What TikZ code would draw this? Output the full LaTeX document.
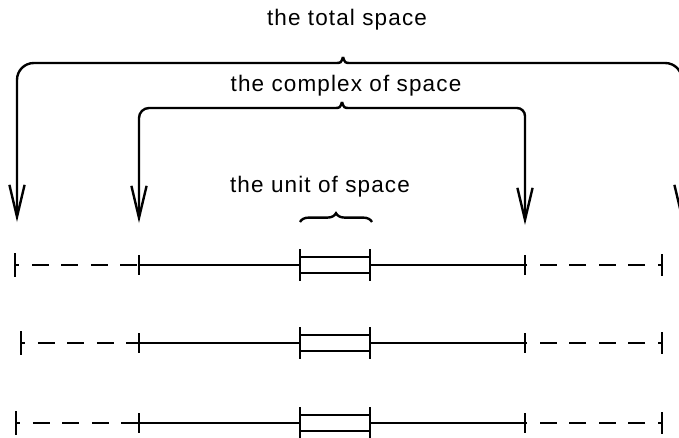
\documentclass[tikz,border=0pt]{standalone}
\usepackage{fontspec}
\setmainfont{Liberation Sans}
\newfontfamily\lblfont{Liberation Sans}[LetterSpace=5]
\usetikzlibrary{arrows.meta,positioning,calc,decorations.pathreplacing}

\begin{document}
\begin{tikzpicture}[x=0.025cm,y=-0.025cm,line width=1.4pt,
  >={Straight Barb[length=8mm,width=3.8mm]},
  lbl/.style={font=\lblfont\fontsize{16}{19}\selectfont,inner sep=0pt,anchor=base},
  brc/.style={line width=1.7pt},
  gapdash/.style={dash pattern=on 12pt off 9pt,dash phase=9pt}]
\clip (0,0) rectangle (679,437);
% --- labels ---
\node[lbl] (total)   at (347,25)  {the total space};
\node[lbl] (complex) at (346,91)  {the complex of space};
\node[lbl] (unit)    at (320,192) {the unit of space};
% --- cusps and arrow tips ---
\coordinate (totC) at (343,57);
\coordinate (totL) at (17,222);
\coordinate (totR) at (682,222);
\coordinate (cpxC) at (342,102);
\coordinate (cpxL) at (139,223);
\coordinate (cpxR) at (525,225);
\coordinate (untL) at (300,222);
\coordinate (untR) at (372,222);
% --- the total space ---
\draw[brc,->] (totC) .. controls (341,63) .. (335,63) [rounded corners=4.2mm] -- (17,63) -- (totL);
\draw[brc,->] (totC) .. controls (345,63) .. (351,63) [rounded corners=4.2mm] -- (682,63) -- (totR);
% --- the complex of space ---
\draw[brc,->] (cpxC) .. controls (340,108) .. (334,108) [rounded corners=2.5mm] -- (139,108) -- (cpxL);
\draw[brc,->] (cpxC) .. controls (344,108) .. (350,108) [rounded corners=2mm] -- (525,108) -- (cpxR);
% --- the unit of space ---
\draw[brc,decorate,decoration={brace,amplitude=2.2mm}] (untL) -- (untR);
% --- three rows ---
\foreach \r/\y/\lx in {1/265/15,2/343/21,3/423/16} {
  \coordinate (L\r) at (\lx,\y);
  \coordinate (A\r) at (139,\y);
  \coordinate (B\r) at (300,\y);
  \coordinate (C\r) at (370,\y);
  \coordinate (D\r) at (525,\y);
  \coordinate (R\r) at (662,\y);
  \draw[gapdash] (L\r) -- (A\r);
  \draw (A\r) -- (B\r);
  \draw ($(B\r)+(0,-8)$) -- ($(C\r)+(0,-8)$);
  \draw ($(B\r)+(0,8)$) -- ($(C\r)+(0,8)$);
  \draw (C\r) -- (D\r);
  \draw[gapdash] (R\r) -- (D\r);
  \foreach \p/\h in {L/12,A/10,B/16,C/16,D/10,R/11}
    \draw ($(\p\r)+(0,-\h)$) -- ($(\p\r)+(0,\h)$);
}
\end{tikzpicture}
\end{document}
